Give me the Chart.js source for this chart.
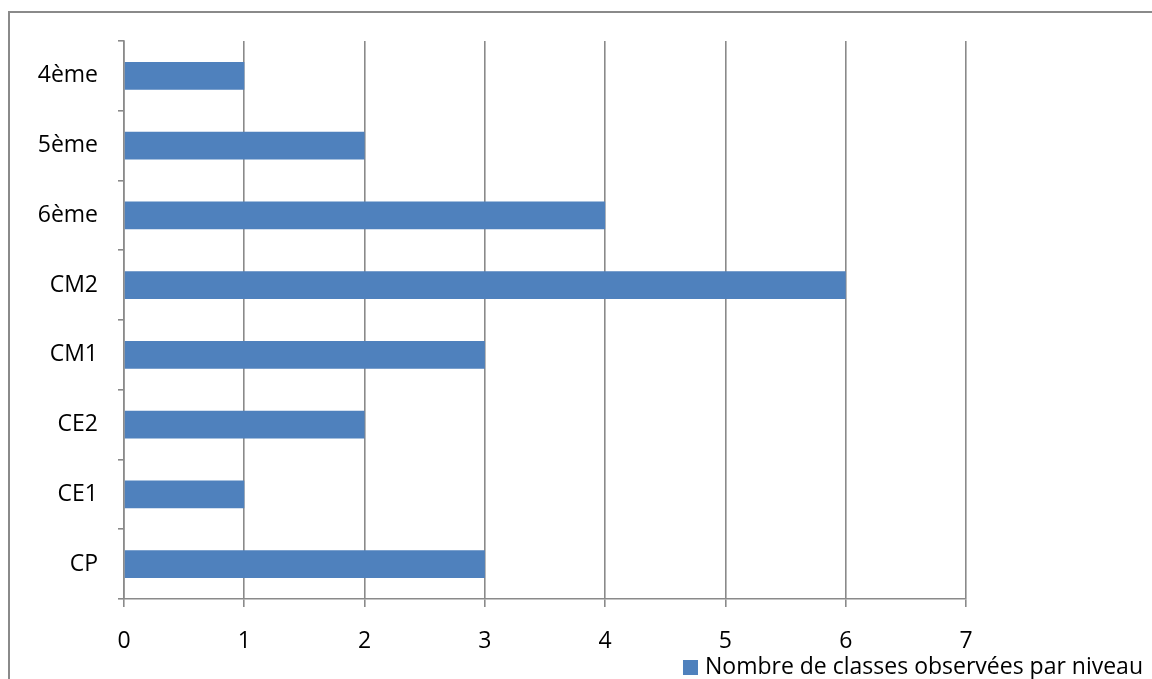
<!DOCTYPE html>
<html>
<head>
<meta charset="utf-8">
<script src="https://cdn.jsdelivr.net/npm/chart.js@4/dist/chart.umd.min.js"></script>
<style>
  html, body { margin: 0; padding: 0; background: #fff; }
  #wrap { position: relative; width: 1152px; height: 679px; }
</style>
</head>
<body>
<div id="wrap"><canvas id="chart" width="1152" height="679"></canvas></div>
<script>
// niveaux, du bas vers le haut (ordre Excel)
var niveaux = ['CP', 'CE1', 'CE2', 'CM1', 'CM2', '6ème', '5ème', '4ème']
var nbClasses = [3, 1, 2, 3, 6, 4, 2, 1]
var serieLabel = 'Nombre de classes observées par niveau'
var xTicks = [0, 1, 2, 3, 4, 5, 6, 7]

var GRIS = '#8a8a8a'
var BLEU = '#4f81bd'
var FONT = '"Open Sans", "Noto Sans", sans-serif'

// cadre gris autour du graphique + légende dessinée à la main
var cadre = {
  id: 'cadre',
  beforeDraw: function (chart) {
    var ctx = chart.ctx
    ctx.save()
    ctx.strokeStyle = GRIS
    ctx.lineWidth = 2
    ctx.strokeRect(9, 12, chart.width + 20, chart.height + 20)
    ctx.restore()
  },
  afterDraw: function (chart) {
    var ctx = chart.ctx
    var ds = chart.data.datasets[0]
    ctx.save()
    ctx.font = '23px ' + FONT
    ctx.textBaseline = 'middle'
    var w = ctx.measureText(ds.label).width
    var cy = chart.height - 12
    var tx = chart.width - 9 - w
    ctx.fillStyle = ds.backgroundColor
    ctx.fillRect(tx - 22, cy - 7, 15, 15)
    ctx.fillStyle = '#000'
    ctx.fillText(ds.label, tx, cy)
    ctx.restore()
  }
}

var chart = new Chart(document.getElementById('chart'), {
  type: 'bar',
  data: {
    labels: niveaux,
    datasets: [{
      label: serieLabel,
      data: nbClasses,
      backgroundColor: BLEU,
      borderWidth: 0,
      categoryPercentage: 0.4,
      barPercentage: 1
    }]
  },
  options: {
    indexAxis: 'y',
    responsive: false,
    animation: false,
    layout: { padding: { top: 41, right: 186, left: 0, bottom: 0 } },
    plugins: {
      legend: { display: false },
      tooltip: { enabled: false }
    },
    scales: {
      x: {
        min: 0,
        max: 7,
        afterBuildTicks: function (scale) {
          scale.ticks = xTicks.map(function (v) { return { value: v } })
        },
        afterFit: function (scale) { scale.height = 80 },
        grid: { color: GRIS, lineWidth: 1.6, tickLength: 8 },
        border: { color: GRIS, width: 1.6 },
        ticks: { color: '#000', padding: 21, maxRotation: 0, font: { family: FONT, size: 23 } }
      },
      y: {
        reverse: true,
        afterFit: function (scale) { scale.width = 124 },
        grid: { drawOnChartArea: false, color: GRIS, lineWidth: 1.6, tickLength: 6, offset: true },
        border: { color: GRIS, width: 1.6 },
        ticks: { color: '#000', padding: 20, font: { family: FONT, size: 23 } }
      }
    }
  },
  plugins: [cadre]
})
</script>
</body>
</html>
